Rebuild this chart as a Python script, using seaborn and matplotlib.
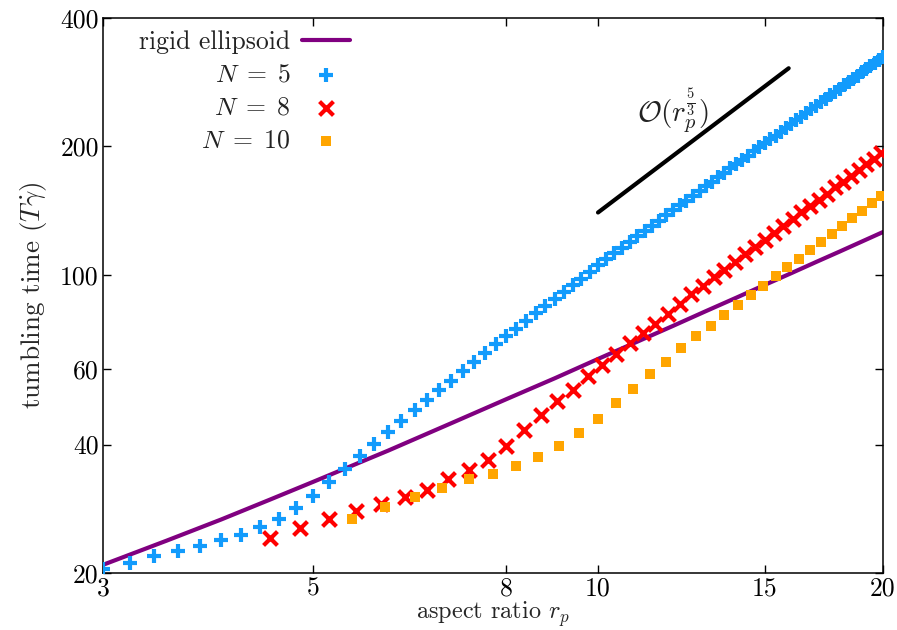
import numpy as np
import pandas as pd
import matplotlib
matplotlib.use("Agg")
import matplotlib.pyplot as plt
import seaborn as sns

# ---------------- data ----------------
ell_x = [3, 3.5, 4, 4.5, 5, 6, 7, 8, 9, 10, 11, 12, 13, 14, 15, 16, 17, 18, 19, 20]
ell_y = [20.9, 23.8, 26.7, 29.7, 32.7, 38.7, 44.9, 51.1, 57.2, 63.5, 69.7, 75.9,
         82.2, 88.4, 94.7, 100.9, 107.2, 113.4, 119.7, 126.0]

n5_x = np.round(np.arange(3.0, 20.001, 0.2), 2)
n5_y = [20.4, 21.1, 21.9, 22.5, 23.1, 23.9, 24.6, 25.6, 26.7, 28.4,
        30.3, 32.6, 35.1, 37.6, 40.1, 42.7, 45.4, 48.2, 50.9, 53.8,
        56.5, 59.6, 62.4, 65.5, 68.8, 71.7, 74.8, 78.1, 81.2, 84.6,
        87.9, 91.3, 94.8, 98.0, 101.8, 105.4,
        108.8, 112.3, 115.8, 119.4, 123.0, 126.6, 130.3, 134.0, 137.8, 141.6,
        145.5, 149.3, 153.3, 157.2, 161.2, 165.3, 169.3, 173.4, 177.6, 181.8,
        186.0, 190.3, 194.6, 198.9, 203.3, 207.7, 212.1, 216.6, 221.1, 225.7,
        230.3, 234.9, 239.6, 244.3, 249.0, 253.7, 258.5, 263.4, 268.2, 273.1,
        278.1, 283.0, 288.0, 293.1, 298.1, 303.2, 308.4, 313.5, 318.7, 324.0]

n8_x = np.round(np.arange(4.5, 19.901, 0.35), 2)
n8_y = [24.1, 25.5, 26.7, 27.9, 29.0, 30.1, 31.3, 33.2, 34.8, 36.9,
        39.7, 43.3, 46.8, 50.5, 53.8, 57.8, 61.5, 65.3, 69.2, 73.0,
        76.8, 81.0, 85.5, 90.2, 94.4, 98.6, 102.9, 107.3, 111.8, 116.3,
        120.9, 125.6, 130.4, 135.2, 140.1, 145.0, 150.0, 155.1, 160.3, 165.5,
        170.8, 176.1, 181.5, 187.0, 192.6]

n10_x = np.round(np.arange(5.5, 19.901, 0.45), 2)
n10_y = [26.7, 28.5, 30.1, 31.6, 33.3, 34.1, 35.7, 37.5, 39.6, 42.5,
         46.0, 50.0, 54.1, 58.4, 62.6, 67.2, 71.7, 76.0, 80.5, 85.0,
         89.6, 94.4, 99.2, 104.1, 109.2, 114.3, 119.5, 124.8, 130.2, 135.7,
         141.3, 147.0, 152.7]

guide_x = [10.0, 15.9]
guide_y = [140, 305]

x_ticks = [3, 5, 8, 10, 15, 20]
y_ticks = [20, 40, 60, 100, 200, 400]

labels = ["rigid ellipsoid", r"$N\;=\;5$", r"$N\;=\;8$", r"$N\;=\;10$"]

# ---------------- style ----------------
sns.set_style("ticks")
plt.rcParams.update({
    "font.family": "serif",
    "font.serif": ["cmr10"],
    "mathtext.fontset": "cm",
    "axes.formatter.use_mathtext": True,
    "axes.unicode_minus": False,
    "font.size": 18.5,
    "axes.linewidth": 1.1,
    "axes.edgecolor": "black",
    "xtick.direction": "in",
    "ytick.direction": "in",
    "xtick.top": True,
    "ytick.right": True,
    "xtick.major.size": 6,
    "ytick.major.size": 6,
    "xtick.color": "black",
    "ytick.color": "black",
    "text.color": "#222222",
})

fig = plt.figure(figsize=(8.97, 6.30), dpi=100)
ax = fig.add_axes([0.1148, 0.0905, 0.8696, 0.8809])

purple = "#800080"
blue = "#129BFC"
red = "#FF0000"
orange = "#FFA500"

sns.lineplot(x=ell_x, y=ell_y, ax=ax, color=purple, linewidth=3.0, label=labels[0],
             estimator=None, sort=False)
sns.scatterplot(x=n5_x, y=n5_y, ax=ax, marker="+", s=95, linewidth=3.0,
                color=blue, label=labels[1], zorder=3)
sns.scatterplot(x=n8_x, y=n8_y, ax=ax, marker="x", s=100, linewidth=3.0,
                color=red, label=labels[2], zorder=3)
sns.scatterplot(x=n10_x, y=n10_y, ax=ax, marker="s", s=55, linewidth=0,
                color=orange, label=labels[3], zorder=3)
sns.lineplot(x=guide_x, y=guide_y, ax=ax, color="black", linewidth=3.0,
             estimator=None, sort=False, legend=False)

ax.text(12.0, 242, r"$\mathcal{O}(r_p^{\frac{5}{3}})$", fontsize=21,
        ha="center", va="center")

ax.set_xscale("log")
ax.set_yscale("log")
ax.set_xlim(3, 20)
ax.set_ylim(20, 400)
ax.set_xticks(x_ticks)
ax.set_xticklabels([str(v) for v in x_ticks])
ax.set_yticks(y_ticks)
ax.set_yticklabels([str(v) for v in y_ticks])
ax.minorticks_off()
ax.tick_params(axis="both", which="major", labelsize=18.5, pad=3, width=1.0)
ax.set_xlabel(r"aspect ratio $r_p$", fontsize=17.5, labelpad=-1)
ax.set_ylabel(r"tumbling time $(T\dot{\gamma})$", fontsize=19.5, labelpad=8)

handles, labs = ax.get_legend_handles_labels()
leg = ax.legend(handles, labs, loc="upper right", bbox_to_anchor=(0.323, 0.988),
                markerfirst=False, frameon=False, fontsize=18.5,
                handlelength=1.85, handletextpad=0.47, labelspacing=0.36,
                borderpad=0.2, borderaxespad=0)

fig.savefig("out.png", dpi=100)
